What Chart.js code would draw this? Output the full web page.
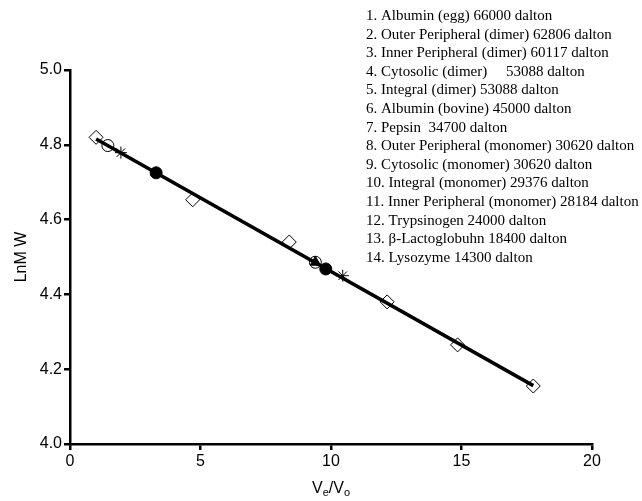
<!DOCTYPE html>
<html>
<head>
<meta charset="utf-8">
<script src="https://cdn.jsdelivr.net/npm/chart.js@4.4.0/dist/chart.umd.min.js"></script>
<style>
  body { margin: 0; background: #fff; }
  #wrap { width: 642px; height: 501px; }
</style>
</head>
<body>
<div id="wrap"><canvas id="calib" width="642" height="501"></canvas></div>
<script>
// legend lines (text only, drawn top right)
const legendLines = [
    "1. Albumin (egg) 66000 dalton",
    "2. Outer Peripheral (dimer) 62806 dalton",
    "3. Inner Peripheral (dimer) 60117 dalton",
    "4. Cytosolic (dimer)     53088 dalton",
    "5. Integral (dimer) 53088 dalton",
    "6. Albumin (bovine) 45000 dalton",
    "7. Pepsin  34700 dalton",
    "8. Outer Peripheral (monomer) 30620 dalton",
    "9. Cytosolic (monomer) 30620 dalton",
    "10. Integral (monomer) 29376 dalton",
    "11. Inner Peripheral (monomer) 28184 dalton",
    "12. Trypsinogen 24000 dalton",
    "13. \u03b2-Lactoglobuhn 18400 dalton",
    "14. Lysozyme 14300 dalton"
];

// standards (open diamonds)
const stdX = [1.0, 4.7, 8.4, 12.15, 14.85, 17.75];
const stdY = [4.820, 4.653, 4.540, 4.380, 4.265, 4.155];
// outer peripheral (open circles)
const outerX = [1.45, 9.4];
const outerY = [4.798, 4.486];
// inner peripheral (stars)
const innerX = [1.95, 10.45];
const innerY = [4.779, 4.450];
// cytosolic (filled triangles)
const cytoX = [3.3, 9.4];
const cytoY = [4.725, 4.486];
// integral (filled circles)
const integralX = [3.3, 9.8];
const integralY = [4.725, 4.468];

const xTicks = [0, 5, 10, 15, 20];
const yTicks = ["4.0", "4.2", "4.4", "4.6", "4.8", "5.0"];

function pts(xs, ys) {
    return xs.map((x, i) => ({ x: x, y: ys[i] }));
}

// least squares line through the standards
function fitLine(xs, ys) {
    const n = xs.length;
    const mx = xs.reduce((a, b) => a + b, 0) / n;
    const my = ys.reduce((a, b) => a + b, 0) / n;
    let sxy = 0, sxx = 0;
    for (let i = 0; i < n; i++) {
        sxy += (xs[i] - mx) * (ys[i] - my);
        sxx += (xs[i] - mx) * (xs[i] - mx);
    }
    const b = sxy / sxx;
    const a = my - b * mx;
    const x0 = Math.min(...xs), x1 = Math.max(...xs);
    return [{ x: x0, y: a + b * x0 }, { x: x1, y: a + b * x1 }];
}

const textPlugin = {
    id: "texts",
    afterDraw(chart) {
        const ctx = chart.ctx;
        const area = chart.chartArea;
        ctx.save();
        ctx.fillStyle = "#000";

        // legend block
        ctx.font = "15px 'Liberation Serif', 'Times New Roman', serif";
        ctx.textAlign = "left";
        ctx.textBaseline = "middle";
        legendLines.forEach((t, i) => {
            ctx.fillText(t, 366, 16 + i * 18.6);
        });

        // y title
        ctx.font = "16px 'Liberation Sans', Arial, sans-serif";
        ctx.translate(22, (area.top + area.bottom) / 2);
        ctx.rotate(-Math.PI / 2);
        ctx.textAlign = "center";
        ctx.fillText("LnM W", 0, 0);
        ctx.setTransform(1, 0, 0, 1, 0, 0);

        // x title V_e/V_o
        const cx = (area.left + area.right) / 2;
        const by = 493;
        const big = "16px 'Liberation Sans', Arial, sans-serif";
        const small = "11px 'Liberation Sans', Arial, sans-serif";
        const parts = [["V", big, 0], ["e", small, 3], ["/V", big, 0], ["o", small, 3]];
        let w = 0;
        parts.forEach(p => { ctx.font = p[1]; w += ctx.measureText(p[0]).width; });
        let x = cx - w / 2;
        ctx.textAlign = "left";
        ctx.textBaseline = "alphabetic";
        parts.forEach(p => {
            ctx.font = p[1];
            ctx.fillText(p[0], x, by + p[2]);
            x += ctx.measureText(p[0]).width;
        });
        ctx.restore();
    }
};

const ctx = document.getElementById("calib").getContext("2d");
new Chart(ctx, {
    type: "scatter",
    data: {
        datasets: [
            {
                type: "line",
                data: fitLine(stdX, stdY),
                borderColor: "#000",
                borderWidth: 3.5,
                pointRadius: 0,
                fill: false
            },
            {
                data: pts(integralX, integralY),
                pointStyle: "circle",
                pointRadius: 6,
                backgroundColor: "#000",
                borderColor: "#000"
            },
            {
                data: pts(cytoX, cytoY),
                pointStyle: "triangle",
                pointRadius: 6,
                backgroundColor: "#000",
                borderColor: "#000"
            },
            {
                data: pts(innerX, innerY),
                pointStyle: "star",
                pointRadius: 6,
                borderWidth: 1,
                borderColor: "#000"
            },
            {
                data: pts(outerX, outerY),
                pointStyle: "circle",
                pointRadius: 6,
                borderWidth: 1,
                backgroundColor: "#fff",
                borderColor: "#000"
            },
            {
                data: pts(stdX, stdY),
                pointStyle: "rectRot",
                pointRadius: 7,
                borderWidth: 1,
                backgroundColor: "#fff",
                borderColor: "#000"
            }
        ]
    },
    options: {
        responsive: false,
        animation: false,
        layout: { padding: { top: 70, right: 50, left: 0, bottom: 0 } },
        plugins: {
            legend: { display: false },
            tooltip: { enabled: false }
        },
        scales: {
            x: {
                type: "linear",
                min: 0,
                max: 20,
                afterBuildTicks: scale => { scale.ticks = xTicks.map(v => ({ value: v })); },
                afterFit: scale => { scale.height = 57; },
                border: { display: true, color: "#000", width: 2.5 },
                grid: { drawOnChartArea: false, drawTicks: true, tickLength: 6, color: "#000", lineWidth: 2.5 },
                ticks: {
                    color: "#000",
                    padding: 2,
                    font: { family: "'Liberation Sans', Arial, sans-serif", size: 16 }
                }
            },
            y: {
                type: "linear",
                min: 4.0,
                max: 5.0,
                afterBuildTicks: scale => { scale.ticks = yTicks.map(v => ({ value: parseFloat(v) })); },
                afterFit: scale => { scale.width = 70; },
                border: { display: true, color: "#000", width: 2.5 },
                grid: { drawOnChartArea: false, drawTicks: true, tickLength: 6, color: "#000", lineWidth: 2.5 },
                ticks: {
                    color: "#000",
                    padding: 2,
                    callback: (v, i) => yTicks[i],
                    font: { family: "'Liberation Sans', Arial, sans-serif", size: 16 }
                }
            }
        }
    },
    plugins: [textPlugin]
});
</script>
</body>
</html>
